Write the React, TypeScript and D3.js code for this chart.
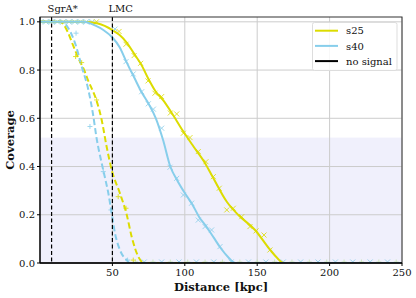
import React from "react";
import * as d3 from "d3";

const W = 416;
const H = 298;

// smoothed curves (distance in kpc, coverage)
const s25Dist = [0, 30, 40, 50, 55, 60, 65, 70, 75, 80, 85, 91, 99, 106, 114, 119, 129, 137, 148.5, 159, 164, 168, 250];
const s25Cov = [1, 1, 0.993, 0.966, 0.945, 0.913, 0.868, 0.822, 0.762, 0.71, 0.675, 0.622, 0.545, 0.483, 0.414, 0.36, 0.254, 0.199, 0.137, 0.054, 0.02, 0, 0];

const s40Dist = [0, 30, 38, 44, 50, 55, 60, 65, 70, 75, 80, 85, 90, 95, 100, 105, 110, 115, 120, 125, 130, 135, 250];
const s40Cov = [1, 1, 0.985, 0.965, 0.935, 0.895, 0.83, 0.77, 0.71, 0.66, 0.6, 0.51, 0.4, 0.34, 0.29, 0.245, 0.19, 0.15, 0.105, 0.06, 0.024, 0, 0];

const s25DashDist = [0, 14, 19, 23, 27.6, 30.5, 33, 36, 39.1, 42.6, 46, 49.5, 55.2, 59.9, 63.3, 67.9, 72, 250];
const s25DashCov = [1, 1, 0.96, 0.9, 0.835, 0.8, 0.76, 0.72, 0.672, 0.593, 0.483, 0.386, 0.289, 0.2, 0.109, 0.026, 0, 0];

const s40DashDist = [0, 15, 19.5, 24.2, 28.8, 33.4, 36.5, 39.3, 42.6, 45, 47.2, 49.5, 51.8, 55.2, 59.9, 62, 250];
const s40DashCov = [1, 1, 0.974, 0.912, 0.815, 0.718, 0.621, 0.51, 0.414, 0.35, 0.289, 0.206, 0.123, 0.054, 0.012, 0, 0];

// scatter markers
const s25XDist = [39, 54.6, 59.4, 65, 69.5, 74.6, 79.4, 84, 90, 94.4, 99, 103.6, 109.3, 114.6, 119.7, 123.8, 129, 133.5, 139.3, 145, 149.2, 154.7, 158.8];
const s25XCov = [1.0, 0.96, 0.907, 0.86, 0.828, 0.755, 0.704, 0.69, 0.622, 0.618, 0.538, 0.52, 0.462, 0.42, 0.358, 0.31, 0.22, 0.227, 0.192, 0.151, 0.133, 0.116, 0.054];

const s40XDist = [51.8, 59.4, 64.4, 70.2, 74.8, 78.3, 84, 89.8, 94.4, 99, 104.7, 109.3, 114, 118.5, 124.3];
const s40XCov = [0.97, 0.835, 0.784, 0.71, 0.66, 0.638, 0.559, 0.397, 0.351, 0.282, 0.248, 0.178, 0.151, 0.137, 0.068];

const s25PlusDist = [24.6, 28.8, 39.1, 54, 59.4, 64.4];
const s25PlusCov = [0.856, 0.831, 0.676, 0.275, 0.227, 0.012];

const s40PlusDist = [24.9, 34.5, 43.7, 49, 60.5];
const s40PlusCov = [0.953, 0.566, 0.379, 0.22, 0.012];

const topDist = [2, 4, 6, 8, 10, 12, 14, 16, 18, 20, 22, 24, 26, 28, 30, 32, 34, 36];
const floorDist = [66, 72, 78, 84, 90, 96, 102, 108, 114, 120, 126, 132, 138, 144, 150, 156, 162, 168, 174, 180, 186, 192, 198, 204, 210, 216, 222, 228, 234, 240, 246];

const xTicks = [50, 100, 150, 200, 250];
const yTicks = [0, 0.2, 0.4, 0.6, 0.8, 1.0];
const markers = [
  { name: "SgrA*", d: 8 },
  { name: "LMC", d: 50 },
];
const legendItems = [
  { label: "s25", color: "#dcdc00" },
  { label: "s40", color: "#87ceeb" },
  { label: "no signal", color: "#000" },
];

const YELLOW = "#dcdc00";
const BLUE = "#87ceeb";
const FONT = "DejaVu Serif";

const pl = 40, pr = 402, pt = 17, pb = 263;

export default function App() {
  const x = d3.scaleLinear().domain([0, 250]).range([pl, pr]);
  const y = d3.scaleLinear().domain([0, 1.02]).range([pb, pt]);
  const line = d3
    .line<[number, number]>()
    .x((d) => x(d[0]))
    .y((d) => y(d[1]))
    .curve(d3.curveMonotoneX);
  const zip = (a: number[], b: number[]) => a.map((v, i) => [v, b[i]] as [number, number]);

  const cross = (cx: number, cy: number, color: string, key: string, plus: boolean) => {
    const s = 2.5;
    return plus ? (
      <path key={key} d={`M${cx - s},${cy}H${cx + s}M${cx},${cy - s}V${cy + s}`} stroke={color} strokeWidth={1} opacity={0.8} />
    ) : (
      <path key={key} d={`M${cx - s},${cy - s}L${cx + s},${cy + s}M${cx - s},${cy + s}L${cx + s},${cy - s}`} stroke={color} strokeWidth={1} opacity={0.8} />
    );
  };

  return (
    <svg width={W} height={H} style={{ position: "absolute", left: 0, top: 0 }}>
      <rect x={0} y={0} width={W} height={H} fill="#fff" />
      <defs>
        <clipPath id="plot">
          <rect x={pl} y={pt} width={pr - pl} height={pb - pt} />
        </clipPath>
      </defs>
      {/* shaded band */}
      <rect x={pl} y={y(0.52)} width={pr - pl} height={pb - y(0.52)} fill="#f0f0fc" />
      {/* grid */}
      {xTicks.map((t) => (
        <line key={"gx" + t} x1={x(t)} x2={x(t)} y1={pt} y2={pb} stroke="#cccccc" strokeWidth={1} />
      ))}
      {yTicks.map((t) => (
        <line key={"gy" + t} x1={pl} x2={pr} y1={y(t)} y2={y(t)} stroke="#cccccc" strokeWidth={1} />
      ))}
      <g clipPath="url(#plot)">
        {topDist.map((d, i) => cross(x(d), y(1), i % 2 ? BLUE : "#9fd8cf", "t" + i, i % 2 === 0))}
        {floorDist.map((d, i) => cross(x(d), y(0) - 1, i % 2 ? BLUE : "#c8e6b0", "f" + i, i % 2 === 0))}
        <path d={line(zip(s25DashDist, s25DashCov)) || ""} fill="none" stroke={YELLOW} strokeWidth={2} strokeDasharray="6,3" />
        <path d={line(zip(s40DashDist, s40DashCov)) || ""} fill="none" stroke={BLUE} strokeWidth={2} strokeDasharray="6,3" />
        <path d={line(zip(s25Dist, s25Cov)) || ""} fill="none" stroke={YELLOW} strokeWidth={2} />
        <path d={line(zip(s40Dist, s40Cov)) || ""} fill="none" stroke={BLUE} strokeWidth={2} />
        {s25XDist.map((d, i) => cross(x(d), y(s25XCov[i]), YELLOW, "a" + i, false))}
        {s40XDist.map((d, i) => cross(x(d), y(s40XCov[i]), BLUE, "b" + i, false))}
        {s25PlusDist.map((d, i) => cross(x(d), y(s25PlusCov[i]), YELLOW, "c" + i, true))}
        {s40PlusDist.map((d, i) => cross(x(d), y(s40PlusCov[i]), BLUE, "e" + i, true))}
      </g>
      {/* reference lines */}
      {markers.map((m) => (
        <g key={m.name}>
          <line x1={x(m.d)} x2={x(m.d)} y1={pt} y2={pb} stroke="#000" strokeWidth={1.2} strokeDasharray="4,2.5" />
          <text x={x(m.d) - 4} y={12} fontSize={10} fontFamily={FONT} fill="#111">{m.name}</text>
        </g>
      ))}
      {/* spines */}
      <rect x={pl} y={pt} width={pr - pl} height={pb - pt} fill="none" stroke="#333" strokeWidth={1} />
      <line x1={pl} x2={pr} y1={pb} y2={pb} stroke="#000" strokeWidth={1.5} />
      <line x1={pl} x2={pl} y1={pt} y2={pb} stroke="#000" strokeWidth={1.2} />
      {/* ticks */}
      {xTicks.map((t) => (
        <g key={"tx" + t}>
          <line x1={x(t)} x2={x(t)} y1={pb} y2={pb + 3} stroke="#000" />
          <text x={x(t)} y={276} fontSize={10} fontFamily={FONT} textAnchor="middle" fill="#111">{t}</text>
        </g>
      ))}
      {yTicks.map((t) => (
        <g key={"ty" + t}>
          <line x1={pl - 3} x2={pl} y1={y(t)} y2={y(t)} stroke="#000" />
          <text x={35} y={y(t) + 3.5} fontSize={10} fontFamily={FONT} textAnchor="end" fill="#111">{t.toFixed(1)}</text>
        </g>
      ))}
      {/* axis labels */}
      <text x={221} y={291} fontSize={11.5} fontFamily={FONT} fontWeight="bold" textAnchor="middle" fill="#111">Distance [kpc]</text>
      <text transform={`translate(14,140) rotate(-90)`} fontSize={11.5} fontFamily={FONT} fontWeight="bold" textAnchor="middle" fill="#111">Coverage</text>
      {/* legend */}
      <rect x={312.5} y={22.5} width={84.5} height={48} rx={2} fill="#fff" fillOpacity={0.85} stroke="#dddddd" />
      {legendItems.map((it, i) => (
        <g key={it.label}>
          <line x1={315} x2={338} y1={30.7 + i * 15.2} y2={30.7 + i * 15.2} stroke={it.color} strokeWidth={2} />
          <text x={346} y={34.3 + i * 15.2} fontSize={10} fontFamily={FONT} fill="#111">{it.label}</text>
        </g>
      ))}
    </svg>
  );
}
